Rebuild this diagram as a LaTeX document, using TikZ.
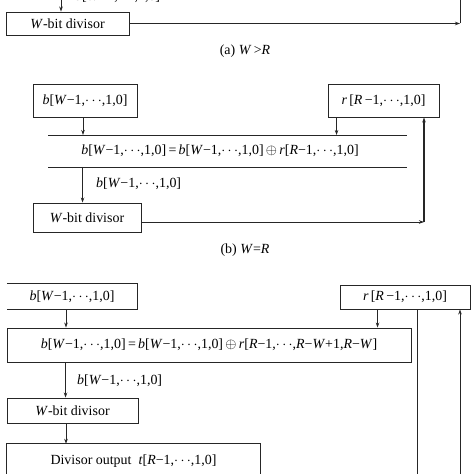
\documentclass[tikz,border=0pt]{standalone}
\usepackage{fontspec}
\setmainfont{Liberation Serif}
\usetikzlibrary{arrows.meta}
\newcommand{\myit}[1]{\textit{#1}}
\newcommand{\bvec}{\myit{b}[\myit{W}−1,$\cdots$,1,0]}
\newcommand{\rvec}{\myit{r}\,[\myit{R}\,−1,$\cdots$,1,0]}
\begin{document}
\begin{tikzpicture}[x=1bp,y=-1bp,
  font=\fontsize{14}{16}\selectfont,
  box/.style={draw=black!85, line width=0.9bp, inner sep=0pt},
  ln/.style={draw=black!85, line width=0.8bp},
  arr/.style={ln, -{Stealth[length=5bp,width=3.5bp]}},
  lbl/.style={inner sep=0pt}]
\clip (0,0) rectangle (474,474);

% ---------- (a)
\node[box, minimum width=123bp, minimum height=23bp] (diva) at (67.5,23.5) {\myit{W}-bit divisor};
\coordinate (atop) at ([yshift=15bp]diva.north);
\coordinate (a1) at ([xshift=-6.5bp]atop);
\draw[arr] (a1) -- (a1 |- diva.north);
\node[lbl, anchor=base west] (alab) at (75,0.5) {\bvec};
\coordinate (acorner) at (460,23.5);
\coordinate (aend) at (460,-3);
\draw[arr] (diva.east) -- (acorner);
\draw[ln] (acorner) -- (aend);
\node[lbl] (capa) at (245,51) {(a) \myit{W}\,>\myit{R}};

% ---------- (b)
\node[box, minimum width=104bp, minimum height=33bp] (bb) at (85,100.5) {\bvec};
\node[box, minimum width=111bp, minimum height=33bp] (rb) at (383.5,100.5) {\rvec};
\coordinate (xtl) at (48,135); \coordinate (xtr) at (407,135);
\coordinate (xbl) at (48,167); \coordinate (xbr) at (407,167);
\draw[ln] (xtl) -- (xtr);
\draw[ln] (xbl) -- (xbr);
\node[lbl] (xorb) at (220,151) {\bvec\,=\,\bvec\,$\oplus$\,\myit{r}[\myit{R}−1,$\cdots$,1,0]};
\coordinate (b1) at ([xshift=-2bp]bb.south);
\draw[arr] (b1) -- (b1 |- xtl);
\coordinate (r1) at ([xshift=9bp]rb.south west);
\draw[arr] (r1) -- (r1 |- xtl);
\node[box, minimum width=108bp, minimum height=29bp] (divb) at (87,217.5) {\myit{W}-bit divisor};
\coordinate (b2) at ([xshift=50bp]divb.north west);
\draw[arr] (b2 |- xbl) -- (b2);
\node[lbl, anchor=west] (blab) at (96,184) {\bvec};
\coordinate (bcorner) at (424,222);
\draw[arr] (divb.east |- bcorner) -- (bcorner);
\draw[arr, line width=1.2bp] (bcorner) -- (bcorner |- rb.south);
\node[lbl] (capb) at (245,250) {(b) \myit{W}=\myit{R}};

% ---------- (c)
\node[lbl, minimum width=130bp, minimum height=25bp] (bc) at (72,296.5) {\bvec};
\draw[ln, line width=0.9bp] (bc.north west) -- (bc.north east) -- (bc.south east) -- (bc.south west);
\node[box, minimum width=130bp, minimum height=24bp] (rc) at (405,297) {\rvec};
\node[box, minimum width=404bp, minimum height=34bp] (midc) at (209,345) {\bvec\,=\,\bvec\,$\oplus$\,\myit{r}[\myit{R}−1,$\cdots$,\myit{R}−\myit{W}+1,\myit{R}−\myit{W}]};
\coordinate (c1) at ([xshift=-6bp]bc.south);
\draw[arr] (c1) -- (c1 |- midc.north);
\coordinate (c2) at ([xshift=38bp]rc.south west);
\draw[arr] (c2) -- (c2 |- midc.north);
\coordinate (c3) at (417,480);
\draw[ln] (c3 |- rc.south) -- (c3);
\coordinate (c4) at (460,480);
\draw[arr] (c4) -- (c4 |- rc.south);
\node[box, minimum width=131bp, minimum height=25bp] (divc) at (72.5,410.5) {\myit{W}-bit divisor};
\coordinate (c5) at ([xshift=59bp]midc.south west);
\draw[arr] (c5) -- (c5 |- divc.north);
\node[lbl, anchor=west] (clab) at (77,381) {\bvec};
\node[lbl, minimum width=253bp, minimum height=34bp] (outc) at (133.5,461) {Divisor output \ \myit{t}[\myit{R}−1,$\cdots$,1,0]};
\draw[ln, line width=0.9bp] (outc.south west) -- (outc.north west) -- (outc.north east) -- (outc.south east);
\coordinate (c6) at ([xshift=-6.5bp]divc.south);
\draw[arr] (c6) -- (c6 |- outc.north);
\end{tikzpicture}
\end{document}
